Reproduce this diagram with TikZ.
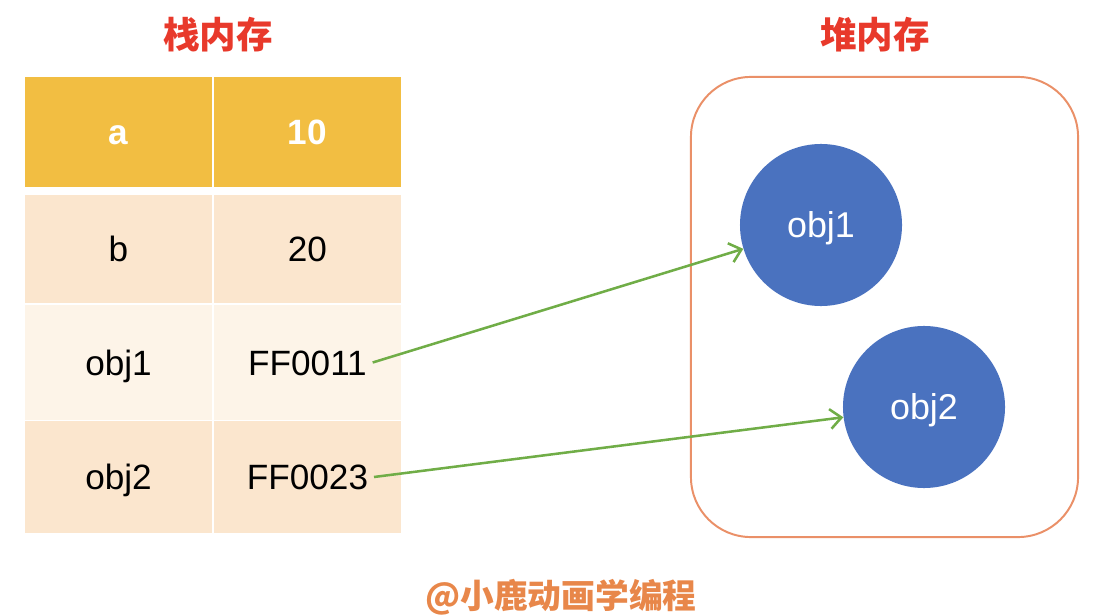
\documentclass[tikz,border=0pt]{standalone}
\usepackage{fontspec}
\setmainfont{Liberation Sans}
\newfontfamily\cjk{Noto Sans CJK SC}
\usetikzlibrary{arrows.meta}
\definecolor{hdr}{HTML}{F2BE42}
\definecolor{rowA}{HTML}{FBE6CE}
\definecolor{rowB}{HTML}{FDF4E8}
\definecolor{ttl}{HTML}{E8392B}
\definecolor{heapc}{HTML}{EA9068}
\definecolor{objc}{HTML}{4A72BF}
\definecolor{arr}{HTML}{70AD47}
\definecolor{foot}{HTML}{E8874A}
\tikzset{
  cellbox/.style={draw=none, inner sep=0pt, minimum width=4.675cm},
  celltxt/.style={inner sep=4pt, text height=17.9pt, text depth=0pt, font=\fontsize{25}{30}\selectfont},
  hdrtxt/.style={celltxt, text=white, font=\fontsize{25}{30}\selectfont\bfseries},
  titletxt/.style={text=ttl, font=\cjk\bfseries\fontsize{26}{30}\selectfont},
  objnode/.style={circle, fill=objc, minimum size=4.05cm, inner sep=0pt, text=white, text height=18.3pt, text depth=0pt, font=\fontsize{25.5}{30}\selectfont},
  ptr/.style={draw=arr, line width=1.8pt, -{Straight Barb[length=8pt,width=14pt,line width=1.8pt]}}
}
\begin{document}
\begin{tikzpicture}[x=0.025cm,y=-0.025cm]
\useasboundingbox (0,0) rectangle (1098,616);
% titles
\node[titletxt] (t1) at (218,35) {栈内存};
\node[titletxt] (t2) at (875,35) {堆内存};
% table cells
\node[cellbox, fill=hdr, minimum height=2.75cm] (c11) at (118.5,132) {};
\node[cellbox, fill=hdr, minimum height=2.75cm] (c12) at (307.5,132) {};
\node[cellbox, fill=rowA, minimum height=2.7cm] (c21) at (118.5,249) {};
\node[cellbox, fill=rowA, minimum height=2.7cm] (c22) at (307.5,249) {};
\node[cellbox, fill=rowB, minimum height=2.875cm] (c31) at (118.5,362.5) {};
\node[cellbox, fill=rowB, minimum height=2.875cm] (c32) at (307.5,362.5) {};
\node[cellbox, fill=rowA, minimum height=2.8cm] (c41) at (118.5,477) {};
\node[cellbox, fill=rowA, minimum height=2.8cm] (c42) at (307.5,477) {};
% texts
\node[hdrtxt] (k1) at (c11) {a};
\node[hdrtxt] (v1) at (c12) {10};
\node[celltxt] (k2) at (c21) {b};
\node[celltxt] (v2) at (c22) {20};
\node[celltxt] (k3) at (c31) {obj1};
\node[celltxt] (v3) at (c32) {FF0011};
\node[celltxt] (k4) at (c41) {obj2};
\node[celltxt] (v4) at (c42) {FF0023};
% heap
\node[draw=heapc, line width=1.4pt, rounded corners=1.5cm, minimum width=9.675cm, minimum height=11.5cm, inner sep=0pt] (heap) at (884.5,307) {};
\node[objnode] (o1) at (821,225) {obj1};
\node[objnode] (o2) at (924,407) {obj2};
% pointers
\draw[ptr] (v3.east) -- (o1);
\draw[ptr] (v4.east) -- (o2);
% footer
\node[text=foot, font=\cjk\bfseries\fontsize{24}{30}\selectfont] (ft) at (561,597) {@小鹿动画学编程};
\end{tikzpicture}
\end{document}
